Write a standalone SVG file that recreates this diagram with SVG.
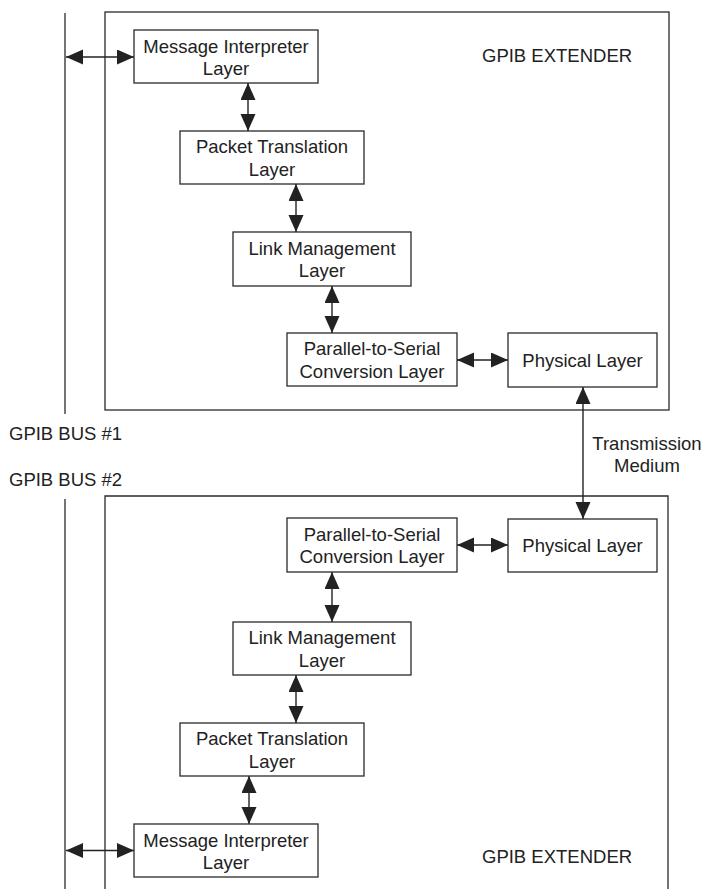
<svg xmlns="http://www.w3.org/2000/svg" width="705" height="889" viewBox="0 0 705 889">
<style>
  .frame { fill: none; stroke: #2a2a2a; stroke-width: 1.3; }
  .box { fill: #fff; stroke: #2a2a2a; stroke-width: 1.3; }
  .bus { stroke: #2a2a2a; stroke-width: 1.3; fill: none; }
  .conn { stroke: #222; stroke-width: 1.4; fill: none; marker-start: url(#ah); marker-end: url(#ah); }
  text { font-family: "Liberation Sans", Arial, sans-serif; font-size: 18.5px; fill: #222; }
  .c { text-anchor: middle; }
</style>
<defs>
  <marker id="ah" markerUnits="userSpaceOnUse" markerWidth="18" markerHeight="16" refX="17" refY="7.5" orient="auto-start-reverse">
    <path d="M0,0 L17,7.5 L0,15 Z" fill="#222"/>
  </marker>
</defs>

<g id="buses">
  <line class="bus" x1="65" y1="13" x2="65" y2="414"/>
  <line class="bus" x1="65" y1="499" x2="65" y2="889"/>
  <text x="9" y="440">GPIB BUS #1</text>
  <text x="9" y="486">GPIB BUS #2</text>
</g>

<g id="extender1">
  <rect class="frame" x="105" y="12" width="564" height="398"/>
  <text x="482" y="62">GPIB EXTENDER</text>
</g>
<g id="extender2">
  <path class="frame" d="M105,892 V496 H668 V892"/>
  <text x="482" y="863">GPIB EXTENDER</text>
</g>

<g id="connectors">
  <line class="conn" x1="66" y1="57" x2="134" y2="57"/>
  <line class="conn" x1="248" y1="83" x2="248" y2="131"/>
  <line class="conn" x1="296" y1="184" x2="296" y2="232"/>
  <line class="conn" x1="332" y1="286" x2="332" y2="333"/>
  <line class="conn" x1="457" y1="360" x2="508" y2="360"/>
  <line class="conn" x1="583" y1="387" x2="583" y2="519"/>
  <line class="conn" x1="457" y1="545" x2="508" y2="545"/>
  <line class="conn" x1="332" y1="572" x2="332" y2="622"/>
  <line class="conn" x1="296" y1="675" x2="296" y2="723"/>
  <line class="conn" x1="249" y1="776" x2="249" y2="824"/>
  <line class="conn" x1="66" y1="850.5" x2="134" y2="850.5"/>
</g>

<g id="mi1">
  <rect class="box" x="134" y="30" width="184" height="53"/>
  <text class="c" x="226" y="52.5">Message Interpreter</text>
  <text class="c" x="226" y="74.7">Layer</text>
</g>
<g id="pt1">
  <rect class="box" x="180" y="131" width="184" height="53"/>
  <text class="c" x="272" y="153.3">Packet Translation</text>
  <text class="c" x="272" y="175.7">Layer</text>
</g>
<g id="lm1">
  <rect class="box" x="233" y="232" width="178" height="54"/>
  <text class="c" x="322" y="254.5">Link Management</text>
  <text class="c" x="322" y="276.7">Layer</text>
</g>
<g id="ps1">
  <rect class="box" x="287" y="333" width="170" height="53"/>
  <text class="c" x="372" y="355.3">Parallel-to-Serial</text>
  <text class="c" x="372" y="377.7">Conversion Layer</text>
</g>
<g id="phy1">
  <rect class="box" x="508" y="333" width="149" height="54"/>
  <text class="c" x="582.5" y="366.7">Physical Layer</text>
</g>

<g id="medium">
  <text class="c" x="647" y="450">Transmission</text>
  <text class="c" x="647" y="472">Medium</text>
</g>

<g id="phy2">
  <rect class="box" x="508" y="519" width="149" height="53"/>
  <text class="c" x="582.5" y="552">Physical Layer</text>
</g>
<g id="ps2">
  <rect class="box" x="287" y="518" width="170" height="54"/>
  <text class="c" x="372" y="540.8">Parallel-to-Serial</text>
  <text class="c" x="372" y="563">Conversion Layer</text>
</g>
<g id="lm2">
  <rect class="box" x="233" y="622" width="178" height="53"/>
  <text class="c" x="322" y="644.3">Link Management</text>
  <text class="c" x="322" y="666.7">Layer</text>
</g>
<g id="pt2">
  <rect class="box" x="180" y="723" width="184" height="53"/>
  <text class="c" x="272" y="745.3">Packet Translation</text>
  <text class="c" x="272" y="767.7">Layer</text>
</g>
<g id="mi2">
  <rect class="box" x="134" y="824" width="184" height="53"/>
  <text class="c" x="226" y="846.5">Message Interpreter</text>
  <text class="c" x="226" y="868.7">Layer</text>
</g>
</svg>
